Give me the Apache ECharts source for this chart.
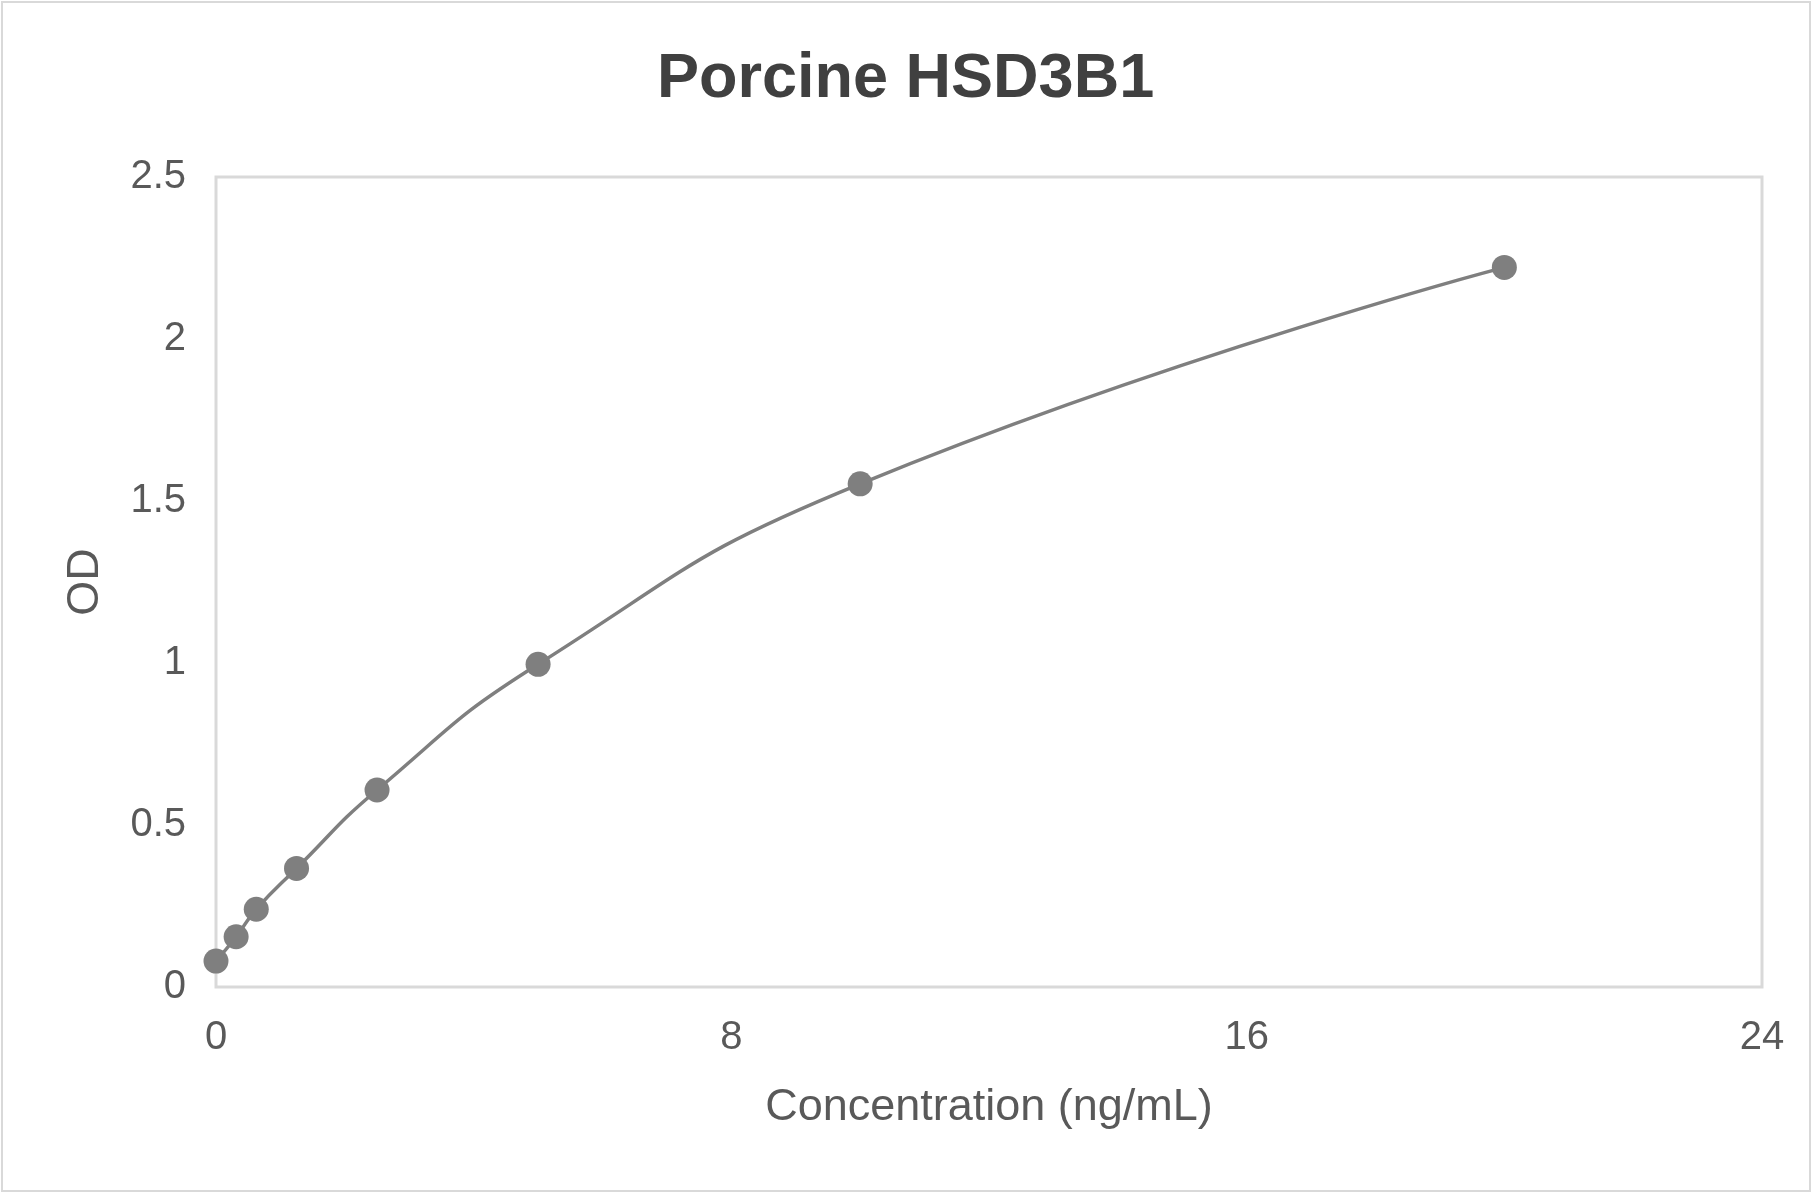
<!DOCTYPE html>
<html>
<head>
<meta charset="utf-8">
<script src="https://cdn.jsdelivr.net/npm/echarts@6/dist/echarts.min.js"></script>
<style>
html,body{margin:0;padding:0;background:#fff;}
#chart{width:1814px;height:1195px;}
</style>
</head>
<body>
<div id="chart"></div>
<script>
const concentrations = [0, 0.3125, 0.625, 1.25, 2.5, 5, 10, 20];
const odValues = [0.080, 0.155, 0.240, 0.366, 0.608, 0.996, 1.553, 2.221];
const xTicks = [0, 8, 16, 24];
const yTicks = [0, 0.5, 1, 1.5, 2, 2.5];

const FONT = '"Liberation Sans", Arial, sans-serif';
const chart = echarts.init(document.getElementById('chart'));
chart.setOption({
  backgroundColor: '#ffffff',
  animation: false,
  title: {
    text: 'Porcine HSD3B1',
    left: 652,
    top: 43,
    textStyle: {fontFamily: FONT, fontSize: 63, fontWeight: 'bold', color: '#404040'}
  },
  graphic: [{
    type: 'rect',
    shape: {x: 2, y: 2, width: 1808, height: 1189},
    style: {fill: 'none', stroke: '#d9d9d9', lineWidth: 2},
    silent: true
  }],
  grid: {
    left: 216, top: 177, width: 1546, height: 810,
    show: true, borderColor: '#d9d9d9', borderWidth: 3, containLabel: false
  },
  xAxis: {
    type: 'value',
    min: xTicks[0], max: xTicks[xTicks.length - 1], interval: xTicks[1] - xTicks[0],
    name: 'Concentration (ng/mL)', nameLocation: 'middle', nameGap: 98,
    nameTextStyle: {fontFamily: FONT, fontSize: 45, color: '#595959'},
    axisLine: {show: false}, axisTick: {show: false}, splitLine: {show: false},
    axisLabel: {fontFamily: FONT, fontSize: 40, color: '#595959', margin: 31}
  },
  yAxis: {
    type: 'value',
    min: yTicks[0], max: yTicks[yTicks.length - 1], interval: yTicks[1] - yTicks[0],
    name: 'OD', nameLocation: 'middle', nameGap: 108, nameRotate: 90,
    nameTextStyle: {fontFamily: FONT, fontSize: 45, color: '#595959'},
    axisLine: {show: false}, axisTick: {show: false}, splitLine: {show: false},
    axisLabel: {fontFamily: FONT, fontSize: 40, color: '#595959', margin: 30}
  },
  series: [{
    type: 'line',
    data: concentrations.map((c, i) => [c, odValues[i]]),
    smooth: 0.5,
    symbol: 'circle',
    symbolSize: 25,
    itemStyle: {color: '#7f7f7f'},
    lineStyle: {color: '#7f7f7f', width: 3.5}
  }]
});
</script>
</body>
</html>
